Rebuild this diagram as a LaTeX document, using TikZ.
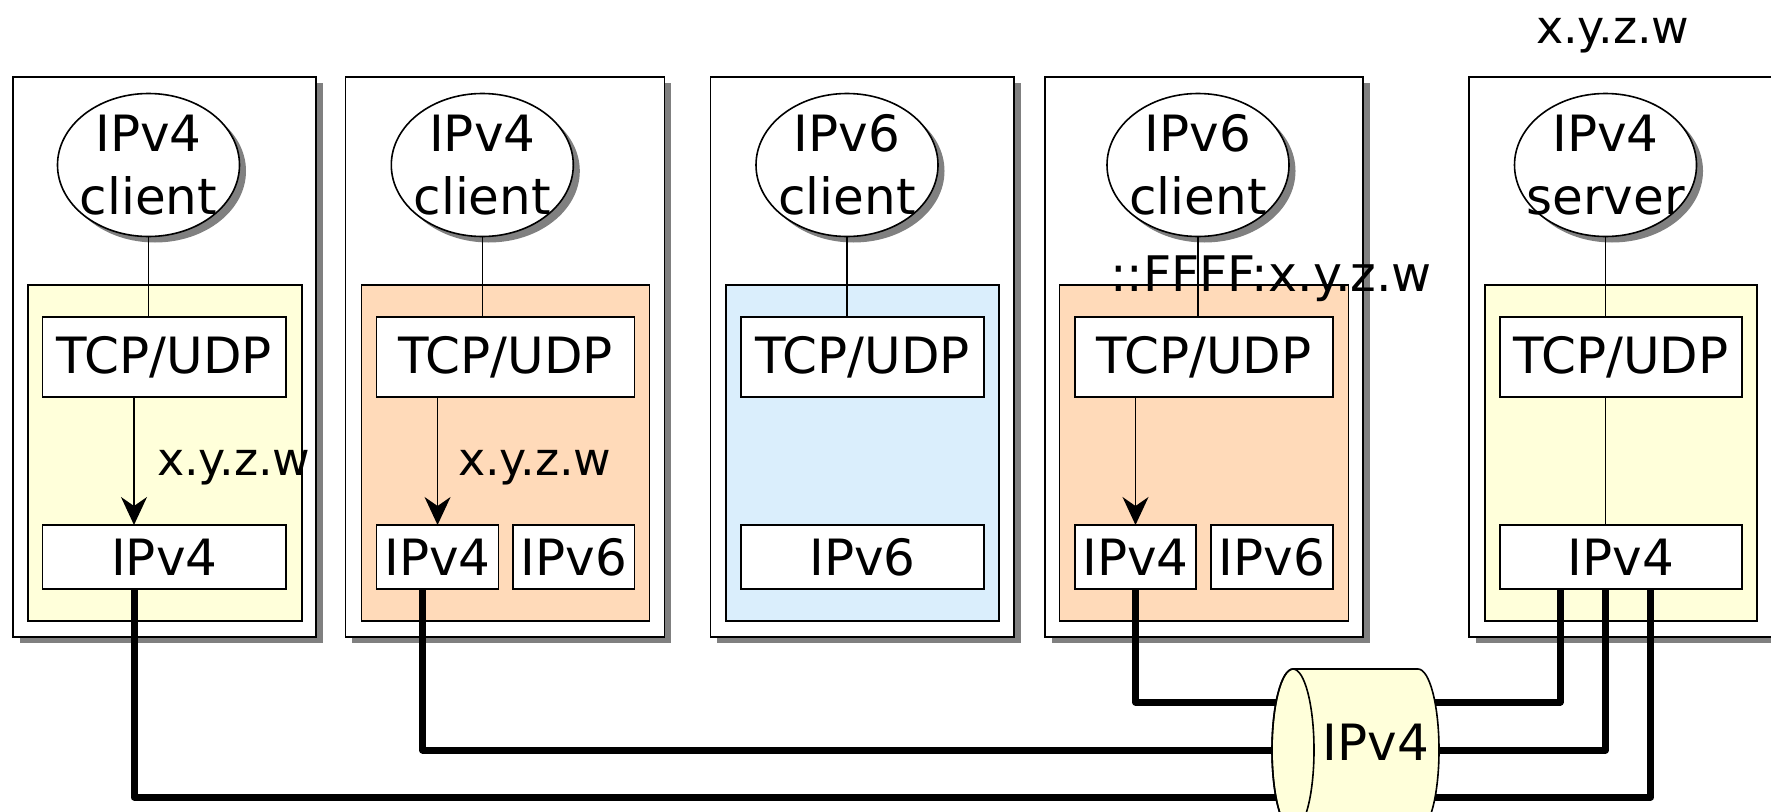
\documentclass[tikz,border=0pt]{standalone}
\usepackage{fontspec}
\setmainfont{DejaVu Sans}
\usetikzlibrary{shadows,arrows.meta,shapes.geometric}
\definecolor{ylw}{RGB}{255,255,218}
\definecolor{org}{RGB}{255,218,185}
\definecolor{blu}{RGB}{218,238,252}
\definecolor{shd}{RGB}{128,128,128}
\newcommand\mkbox[7]{\node[#1, minimum width={#5-#3}, minimum height={#6-#4}] (#2) at (#3,#4) {#7};}
\begin{document}
\begin{tikzpicture}[x=1pt,y=-1pt,
  every node/.style={font=\fontsize{50}{63}\selectfont, outer sep=0pt},
  panel/.style={draw, line width=1.6pt, fill=white, anchor=north west, inner sep=0pt,
    drop shadow={shadow xshift=6.5pt, shadow yshift=-6pt, fill=shd, opacity=1}},
  layer/.style={draw, line width=1.6pt, anchor=north west, inner sep=0pt},
  proto/.style={draw, line width=1.6pt, fill=white, anchor=north west, inner sep=0pt},
  app/.style={draw, ellipse, line width=1.6pt, fill=white, minimum width=182pt,
    minimum height=143pt, inner sep=0pt,
    drop shadow={shadow xshift=6.5pt, shadow yshift=-6pt, fill=shd, opacity=1}},
  apptext/.style={align=center, inner sep=0pt},
  lbl/.style={anchor=base west, inner sep=0pt},
  thinline/.style={line width=1.6pt},
  arr/.style={line width=1.6pt, -{Stealth[length=28pt,width=26pt,inset=9pt]}},
  wire/.style={line width=7pt, line join=round}
]
\useasboundingbox (0,0) rectangle (1771,811);
\clip (0,0) rectangle (1771,811);

% outer panels
\mkbox{panel}{o1}{13}{77}{316}{637}{}
\mkbox{panel}{o2}{345.5}{77}{664.5}{637}{}
\mkbox{panel}{o3}{710.5}{77}{1014}{637}{}
\mkbox{panel}{o4}{1045}{77}{1363}{637}{}
\mkbox{panel}{o5}{1469}{77}{1800}{637}{}

% inner layers
\mkbox{layer,fill=ylw}{l1}{28}{285}{302}{621}{}
\mkbox{layer,fill=org}{l2}{361.4}{285}{649.4}{621}{}
\mkbox{layer,fill=blu}{l3}{725.7}{285}{999}{621}{}
\mkbox{layer,fill=org}{l4}{1059.6}{285}{1348.6}{621}{}
\mkbox{layer,fill=ylw}{l5}{1485}{285}{1757}{621}{}

% TCP/UDP boxes
\mkbox{proto}{t1}{42.5}{317}{286}{397}{TCP/UDP}
\mkbox{proto}{t2}{376.6}{317}{634.6}{397}{TCP/UDP}
\mkbox{proto}{t3}{741}{317}{984}{397}{TCP/UDP}
\mkbox{proto}{t4}{1075}{317}{1333}{397}{TCP/UDP}
\mkbox{proto}{t5}{1500}{317}{1742}{397}{TCP/UDP}

% IP boxes
\mkbox{proto}{b1}{42.5}{525}{286}{589}{IPv4}
\mkbox{proto}{b2a}{376.6}{525}{498.5}{589}{IPv4}
\mkbox{proto}{b2b}{513.2}{525}{634.6}{589}{IPv6}
\mkbox{proto}{b3}{741}{525}{984}{589}{IPv6}
\mkbox{proto}{b4a}{1075}{525}{1196}{589}{IPv4}
\mkbox{proto}{b4b}{1211}{525}{1333}{589}{IPv6}
\mkbox{proto}{b5}{1500}{525}{1742}{589}{IPv4}

% applications
\node[app] (a1) at (148.5,165) {};
\node[app] (a2) at (482.3,165) {};
\node[app] (a3) at (847,165) {};
\node[app] (a4) at (1198,165) {};
\node[app] (a5) at (1605.5,165) {};
\node[apptext] (a1t) at (a1) {IPv4\\client};
\node[apptext] (a2t) at (a2) {IPv4\\client};
\node[apptext] (a3t) at (a3) {IPv6\\client};
\node[apptext] (a4t) at (a4) {IPv6\\client};
\node[apptext] (a5t) at (a5) {IPv4\\server};

% app to TCP lines
\draw[thinline] (a1.south) -- (a1.south |- t1.north);
\draw[thinline] (a2.south) -- (a2.south |- t2.north);
\draw[thinline] (a3.south) -- (a3.south |- t3.north);
\draw[thinline] (a4.south) -- (a4.south |- t4.north);
\draw[thinline] (a5.south) -- (a5.south |- t5.north);

% TCP to IP
\draw[arr] ([xshift=91.5pt]t1.south west) -- ([xshift=91.5pt]b1.north west);
\draw[arr] (t2.south -| b2a.north) -- (b2a.north);
\draw[arr] (t4.south -| b4a.north) -- (b4a.north);
\draw[thinline] (a5 |- t5.south) -- (a5 |- b5.north);

% labels
\node[lbl, font=\fontsize{46}{50}\selectfont] (x1) at (157,475) {x.y.z.w};
\node[lbl, font=\fontsize{46}{50}\selectfont] (x2) at (458,475) {x.y.z.w};
\node[lbl, font=\fontsize{49}{55}\selectfont] (x4) at (1110,291) {::FFFF:x.y.z.w};
\node[lbl, font=\fontsize{46}{50}\selectfont] (x5) at (1536,43) {x.y.z.w};

% wires
\coordinate (cylc) at (1355,750);
\draw[wire] ([xshift=91.5pt]b1.south west) |- ([yshift=-47pt]cylc);
\draw[wire] ([xshift=46pt]b2a.south west) |- (cylc);
\draw[wire] (b4a.south) |- ([yshift=48pt]cylc);
\draw[wire] ([xshift=60pt]b5.south west) |- ([yshift=48pt]cylc);
\draw[wire] (a5 |- b5.south) |- (cylc);
\draw[wire] ([xshift=150.7pt]b5.south west) |- ([yshift=-47pt]cylc);

% cylinder
\filldraw[fill=ylw, line width=1.6pt]
  (1293,669) -- (1418,669)
  .. controls (1429.6,669) and (1439,705.3) .. (1439,750)
  .. controls (1439,794.7) and (1429.6,831) .. (1418,831)
  -- (1293,831)
  .. controls (1281.4,831) and (1272,794.7) .. (1272,750)
  .. controls (1272,705.3) and (1281.4,669) .. (1293,669) -- cycle;
\draw[line width=1.6pt] (1293,750) ellipse [x radius=21, y radius=81];
\node (cyl) at (1376,742) {IPv4};
\end{tikzpicture}
\end{document}
